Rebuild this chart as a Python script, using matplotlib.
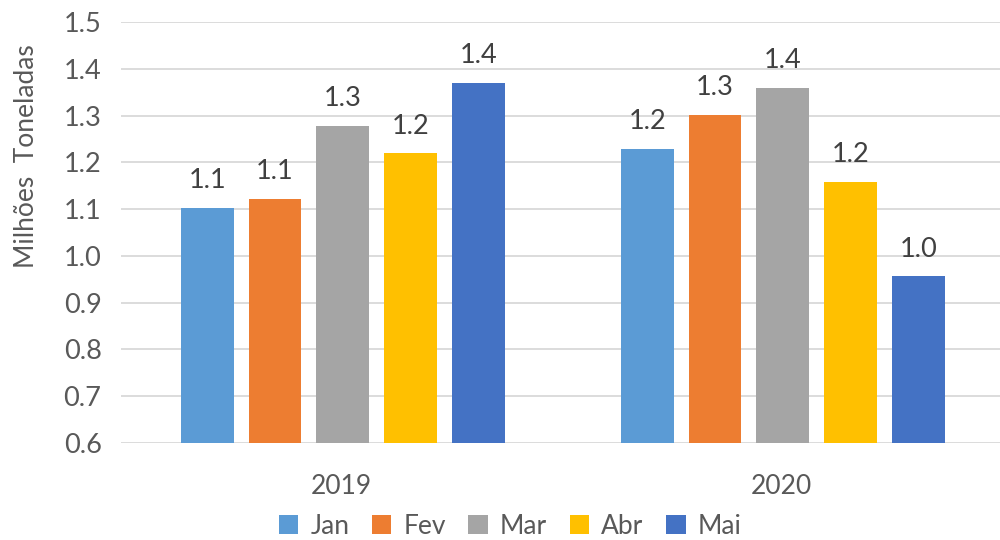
import matplotlib.pyplot as plt
import numpy as np

plt.rcParams['font.family'] = ['Lato', 'DejaVu Sans']

anos = ['2019', '2020']
meses = ['Jan', 'Fev', 'Mar', 'Abr', 'Mai']
jan = [1.103, 1.229]
fev = [1.122, 1.302]
mar = [1.278, 1.358]
abr = [1.219, 1.158]
mai = [1.370, 0.956]
cores = ['#5B9BD5', '#ED7D31', '#A5A5A5', '#FFC000', '#4472C4']

txt = '#595959'

fig = plt.figure(figsize=(10, 5.4), dpi=100)
ax = fig.add_axes([0.121, 0.1796, 0.88, 0.7796])

x = np.arange(len(anos))
step = 0.154
width = 0.12
series = [jan, fev, mar, abr, mai]
for i, (vals, nome, cor) in enumerate(zip(series, meses, cores)):
    pos = x + (i - 2) * step + 0.004
    bars = ax.bar(pos, vals, width, color=cor, label=nome, zorder=3)
    for b, v in zip(bars, vals):
        ax.text(b.get_x() + b.get_width() / 2, v + 0.032, f'{v:.1f}',
                ha='center', va='bottom', fontsize=19.5, color='#404040')

ax.set_ylim(0.6, 1.5)
ax.set_xlim(-0.5, 1.5)
ax.set_yticks(np.arange(0.6, 1.51, 0.1))
ax.set_yticklabels([f'{v:.1f}' for v in np.arange(0.6, 1.51, 0.1)])
ax.set_xticks(x)
ax.set_xticklabels(anos)
ax.tick_params(axis='y', length=0, pad=14, labelsize=19.5, labelcolor=txt)
ax.tick_params(axis='x', length=0, pad=22, labelsize=19, labelcolor=txt)
ax.grid(axis='y', color='#D9D9D9', linewidth=1.3, zorder=0)
for s in ax.spines.values():
    s.set_visible(False)

fig.text(0.027, 0.71, 'Milhões  Toneladas', rotation=90, ha='center', va='center',
         fontsize=19, color=txt)

fig.legend(loc='lower center', bbox_to_anchor=(0.51, -0.042), ncol=5, frameon=False,
           fontsize=19, handlelength=0.75, handleheight=0.75, handletextpad=0.45,
           columnspacing=0.85, labelcolor=txt)

fig.savefig('out.png', dpi=100)
